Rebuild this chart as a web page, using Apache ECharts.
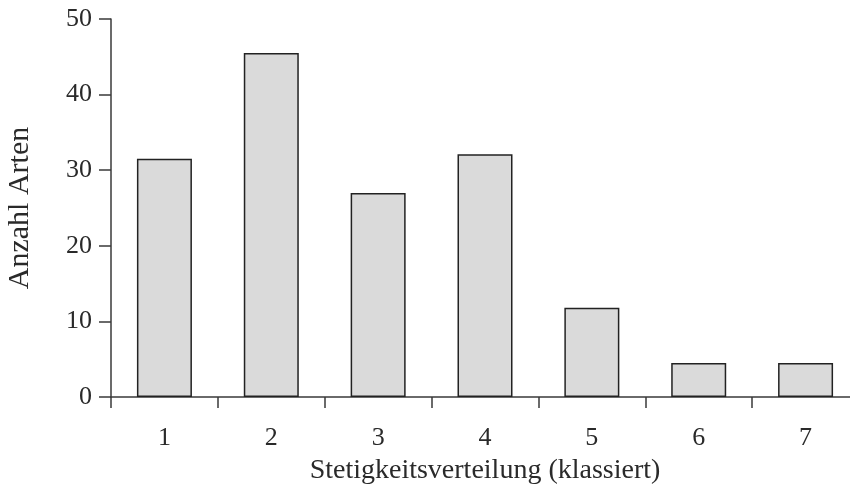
<!DOCTYPE html>
<html><head><meta charset="utf-8">
<script src="https://cdn.jsdelivr.net/npm/echarts@6/dist/echarts.min.js"></script>
<style>html,body{margin:0;padding:0;background:#fff}#c{width:850px;height:496px}</style>
</head><body><div id="c"></div>
<script>
const categories = ['1','2','3','4','5','6','7'];
const values = [31.5, 45.5, 27.0, 32.1, 11.8, 4.5, 4.5];
const yTicks = [0, 10, 20, 30, 40, 50];
const xName = 'Stetigkeitsverteilung (klassiert)';
const yName = 'Anzahl Arten';

const font = '"Liberation Serif", "Times New Roman", serif';
const chart = echarts.init(document.getElementById('c'), null, {renderer:'canvas'});
chart.setOption({
  animation:false,
  backgroundColor:'#fff',
  grid:{left:111, right:-9, top:19, bottom:99, containLabel:false, outerBoundsMode:'none'},
  xAxis:{
    type:'category', data:categories,
    name:xName, nameLocation:'middle', nameGap:60,
    nameTextStyle:{fontFamily:font, fontSize:28, color:'#2a2a2a'},
    axisLine:{lineStyle:{color:'#3a3a3a', width:1.5}},
    axisTick:{show:true, length:11, lineStyle:{color:'#3a3a3a', width:1.5}},
    axisLabel:{fontFamily:font, fontSize:26, color:'#2a2a2a', margin:28}
  },
  yAxis:{
    type:'value', min:yTicks[0], max:yTicks[yTicks.length-1], interval:10,
    name:yName, nameLocation:'middle', nameGap:76,
    nameTextStyle:{fontFamily:font, fontSize:30, color:'#2a2a2a'},
    axisLine:{show:true, lineStyle:{color:'#3a3a3a', width:1.5}},
    axisTick:{show:true, length:12, lineStyle:{color:'#3a3a3a', width:1.5}},
    axisLabel:{fontFamily:font, fontSize:26, color:'#2a2a2a', margin:19},
    splitLine:{show:false}
  },
  series:[{
    type:'bar', data:values, barWidth:55,
    itemStyle:{color:'#dadada', borderColor:'#222', borderWidth:1.5}
  }]
});
</script></body></html>
